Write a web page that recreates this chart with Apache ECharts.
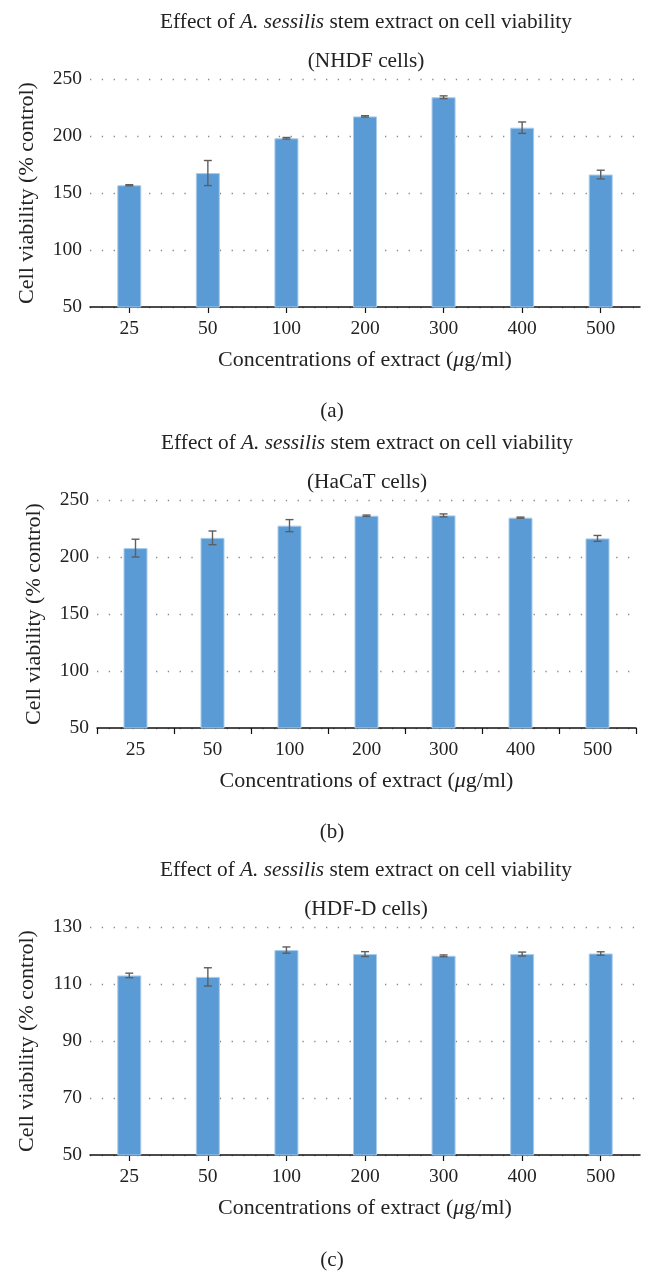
<!DOCTYPE html>
<html>
<head>
<meta charset="utf-8">
<script src="https://cdn.jsdelivr.net/npm/echarts@6/dist/echarts.min.js"></script>
<style>
html,body{margin:0;padding:0;background:#fff;}
#chart{width:654px;height:1283px;}
</style>
</head>
<body>
<div id="chart"></div>
<script>
const categories = ['25','50','100','200','300','400','500'];
const nhdfMean = [156.8, 167.5, 198, 217.2, 234, 207.3, 166.2];
const nhdfErr  = [0.5, 11, 0.7, 0.6, 1.2, 5, 3.8];
const hacatMean = [207.8, 216.8, 227.5, 236.2, 236.5, 234.5, 216.3];
const hacatErr  = [7.8, 6, 5.3, 0.6, 1.3, 0.5, 2.6];
const hdfdMean = [113, 112.5, 121.9, 120.5, 119.9, 120.5, 120.7];
const hdfdErr  = [0.8, 3.2, 1.1, 0.85, 0.3, 0.7, 0.6];
const cellNames = ['(NHDF cells)', '(HaCaT cells)', '(HDF-D cells)'];
const panelLetters = ['(a)', '(b)', '(c)'];
const yMins = [50, 50, 50];
const yMaxs = [250, 250, 130];
const yIntervals = [50, 50, 20];

const FONT = '"Liberation Serif", "DejaVu Serif", serif';
const means = [nhdfMean, hacatMean, hdfdMean];
const errs = [nhdfErr, hacatErr, hdfdErr];

const grids = [
  {left: 90, right: 14, top: 79, height: 228},
  {left: 97, right: 18, top: 500, height: 228},
  {left: 90, right: 14, top: 927, height: 228}
];
const titleTops = [[7, 46, 396], [428, 467, 817], [855, 894, 1245]];
const titleCenters = [361, 362, 361];

function errRender(params, api) {
  const x = api.value(0), lo = api.value(1), hi = api.value(2);
  const p1 = api.coord([x, lo]);
  const p2 = api.coord([x, hi]);
  const w = 4;
  const st = {stroke: '#5e5e5e', lineWidth: 1.4};
  return {
    type: 'group',
    children: [
      {type: 'line', shape: {x1: p1[0], y1: p1[1], x2: p2[0], y2: p2[1]}, style: st},
      {type: 'line', shape: {x1: p1[0]-w, y1: p1[1], x2: p1[0]+w, y2: p1[1]}, style: st},
      {type: 'line', shape: {x1: p2[0]-w, y1: p2[1], x2: p2[0]+w, y2: p2[1]}, style: st}
    ]
  };
}

function rich(size) {
  return {
    n: {fontFamily: FONT, fontSize: size, fontWeight: 'normal', color: '#222'},
    i: {fontFamily: FONT, fontSize: size, fontWeight: 'normal', fontStyle: 'italic', color: '#222'}
  };
}

const titles = [], xAxes = [], yAxes = [], series = [];
for (let k = 0; k < 3; k++) {
  titles.push({
    text: '{n|Effect of }{i|A. sessilis}{n| stem extract on cell viability}',
    left: titleCenters[k], top: titleTops[k][0], textAlign: 'center',
    textStyle: {fontWeight: 'normal', rich: rich(21.3)}
  });
  titles.push({
    text: cellNames[k], left: titleCenters[k], top: titleTops[k][1], textAlign: 'center',
    textStyle: {fontFamily: FONT, fontSize: 21.3, fontWeight: 'normal', color: '#222'}
  });
  titles.push({
    text: panelLetters[k], left: 327, top: titleTops[k][2], textAlign: 'center',
    textStyle: {fontFamily: FONT, fontSize: 21, fontWeight: 'normal', color: '#222'}
  });
  xAxes.push({
    type: 'category', gridIndex: k, data: categories,
    name: '{n|Concentrations of extract (}{i|μ}{n|g/ml)}',
    nameLocation: 'middle', nameGap: 42,
    nameTextStyle: {rich: rich(22)},
    axisLine: {lineStyle: {color: '#111', width: 1.5}},
    axisTick: {show: true, alignWithLabel: k !== 1, length: 6, lineStyle: {color: '#111', width: 1.2}},
    axisLabel: {fontFamily: FONT, fontSize: 19.5, color: '#222', margin: 12},
    splitLine: {show: false}
  });
  yAxes.push({
    type: 'value', gridIndex: k, min: yMins[k], max: yMaxs[k], interval: yIntervals[k],
    name: 'Cell viability (% control)', nameLocation: 'middle', nameGap: 52,
    nameTextStyle: {fontFamily: FONT, fontSize: 22, color: '#222'},
    axisLine: {show: false}, axisTick: {show: false},
    axisLabel: {fontFamily: FONT, fontSize: 19.5, color: '#222', margin: 8},
    splitLine: {show: true, lineStyle: {color: '#888', width: 1.3, type: [1.3, 10.5]}}
  });
  series.push({
    type: 'bar', xAxisIndex: k, yAxisIndex: k, data: means[k], barWidth: 24,
    itemStyle: {color: '#5B9BD5', borderColor: '#A9CBEA', borderWidth: 1},
    silent: true, z: 2
  });
  series.push({
    type: 'custom', xAxisIndex: k, yAxisIndex: k,
    data: categories.map((c, i) => [i, means[k][i] - errs[k][i], means[k][i] + errs[k][i]]),
    encode: {x: 0, y: [1, 2]},
    renderItem: errRender, silent: true, z: 5
  });
}

const chart = echarts.init(document.getElementById('chart'));
chart.setOption({
  backgroundColor: '#fff',
  animation: false,
  title: titles,
  grid: grids,
  xAxis: xAxes,
  yAxis: yAxes,
  series: series
});
</script>
</body>
</html>
